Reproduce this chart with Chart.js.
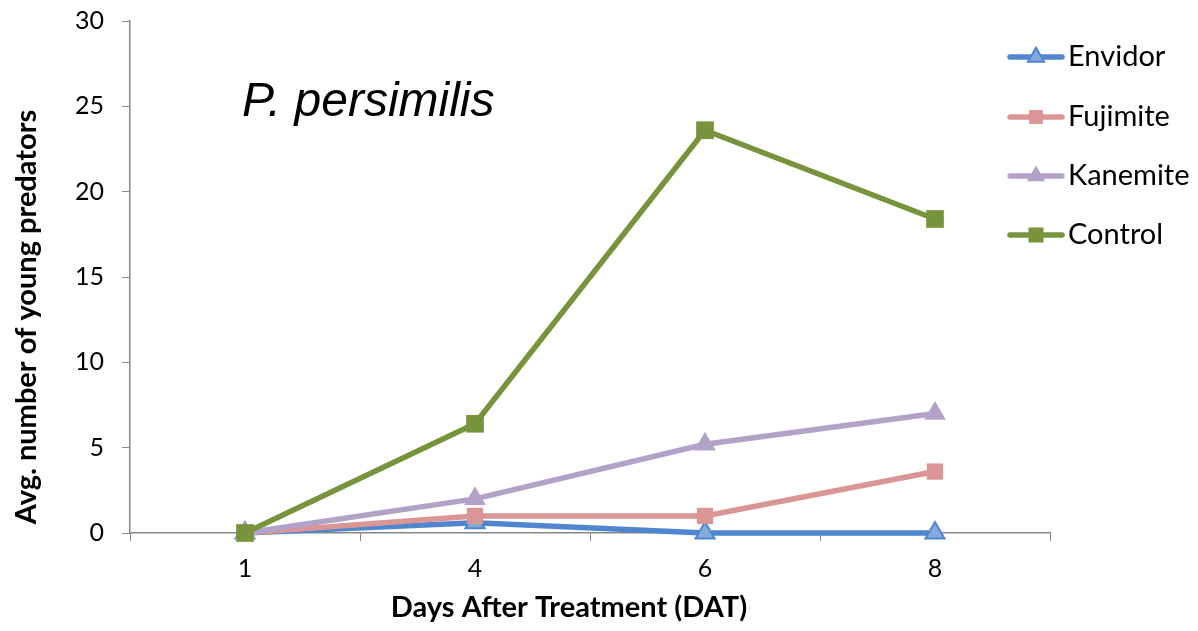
<!DOCTYPE html>
<html><head><meta charset="utf-8">
<script src="https://cdn.jsdelivr.net/npm/chart.js@4.4.1/dist/chart.umd.min.js"></script>
<style>html,body{margin:0;padding:0;background:#fff}#wrap{width:1198px;height:631px}</style>
</head><body><div id="wrap"><canvas id="c" width="1198" height="631"></canvas></div>
<script>
const categories = ['1','4','6','8'];
const envidor  = [0, 0.6, 0, 0];
const fujimite = [0, 1.0, 1.0, 3.6];
const kanemite = [0, 2.0, 5.2, 7.0];
const control  = [0, 6.4, 23.6, 18.4];
const yTicks = [0,5,10,15,20,25,30];
const seriesNames = ['Envidor','Fujimite','Kanemite','Control'];
const chartTitle = 'P. persimilis';
const xTitle = 'Days After Treatment (DAT)';
const yTitle = 'Avg. number of young predators';

const FONT = 'Lato, "Open Sans", sans-serif';
const axisColor = '#868686';

const styles = [
  {line:'#4f86cf', fill:'#84aadd', border:'#4f86cf', bw:2, shape:'triangle', r:11},
  {line:'#d99694', fill:'#d99694', border:'#d99694', bw:0, shape:'rect', r:11.5},
  {line:'#b3a2c7', fill:'#b3a2c7', border:'#b3a2c7', bw:0, shape:'triangle', r:12.5},
  {line:'#77933c', fill:'#77933c', border:'#77933c', bw:0, shape:'rect', r:12.5}
];
const values = [envidor, fujimite, kanemite, control];

const datasets = values.map((v,i)=>({
  label: seriesNames[i],
  data: v,
  borderColor: styles[i].line,
  borderWidth: 5.5,
  backgroundColor: styles[i].fill,
  pointStyle: styles[i].shape,
  pointRadius: styles[i].r,
  pointHoverRadius: styles[i].r,
  pointBackgroundColor: styles[i].fill,
  pointBorderColor: styles[i].border,
  pointBorderWidth: styles[i].bw,
  tension: 0,
  fill: false,
  order: 3 - i,
  clip: false
}));

const extras = {
  id: 'extras',
  afterDraw(chart) {
    const ctx = chart.ctx;
    ctx.save();
    ctx.fillStyle = '#000';
    ctx.font = 'italic 48px "Liberation Sans", Arial, sans-serif';
    ctx.textBaseline = 'alphabetic';
    ctx.textAlign = 'left';
    ctx.fillText(chartTitle, 242, 116);
    // axis titles
    ctx.font = 'bold 29px ' + FONT;
    ctx.textAlign = 'center';
    ctx.textBaseline = 'middle';
    ctx.fillText(xTitle, 569, 608);
    ctx.save();
    ctx.translate(27, 317);
    ctx.rotate(-Math.PI/2);
    ctx.fillText(yTitle, 0, 0);
    ctx.restore();
    // legend
    const ys = [57, 117, 176, 235];
    datasets.forEach((d,i)=>{
      const y = ys[i];
      ctx.strokeStyle = d.borderColor;
      ctx.lineWidth = 5.5;
      ctx.lineCap = 'round';
      ctx.beginPath(); ctx.moveTo(1010, y); ctx.lineTo(1062, y); ctx.stroke();
      ctx.fillStyle = d.pointBackgroundColor;
      ctx.strokeStyle = d.pointBorderColor;
      ctx.lineWidth = d.pointBorderWidth;
      Chart.helpers.drawPoint(ctx, {
        pointStyle: d.pointStyle, rotation: 0, radius: d.pointRadius*0.85,
        borderWidth: d.pointBorderWidth
      }, 1036, y);
      ctx.fillStyle = '#000';
      ctx.font = '29px ' + FONT;
      ctx.textAlign = 'left';
      ctx.textBaseline = 'middle';
      ctx.fillText(d.label, 1068, y);
    });
    ctx.restore();
  }
};

new Chart(document.getElementById('c'), {
  type: 'line',
  data: { labels: categories, datasets },
  options: {
    responsive: false,
    animation: false,
    devicePixelRatio: 1,
    layout: { padding: { top: 21, right: 148, left: 0, bottom: 0 } },
    plugins: { legend: { display: false }, tooltip: { enabled: false } },
    scales: {
      x: {
        type: 'category',
        offset: true,
        grid: { display: true, drawOnChartArea: false, drawTicks: true, tickLength: 8, color: axisColor, offset: true },
        border: { color: axisColor, width: 1.5 },
        ticks: { color: '#000', font: { family: FONT, size: 25 }, padding: 13 },
        afterFit(s) { s.height = 98; s.paddingLeft = 0; s.paddingRight = 0; }
      },
      y: {
        min: 0, max: 30,
        afterBuildTicks(s) { s.ticks = yTicks.map(v=>({value:v})); },
        grid: { display: true, drawOnChartArea: false, drawTicks: true, tickLength: 8, color: axisColor },
        border: { color: axisColor, width: 1.5 },
        ticks: { color: '#000', font: { family: FONT, size: 25 }, padding: 18 },
        afterFit(s) { s.width = 130; s.paddingTop = 0; s.paddingBottom = 0; }
      }
    }
  },
  plugins: [extras]
});
</script></body></html>
